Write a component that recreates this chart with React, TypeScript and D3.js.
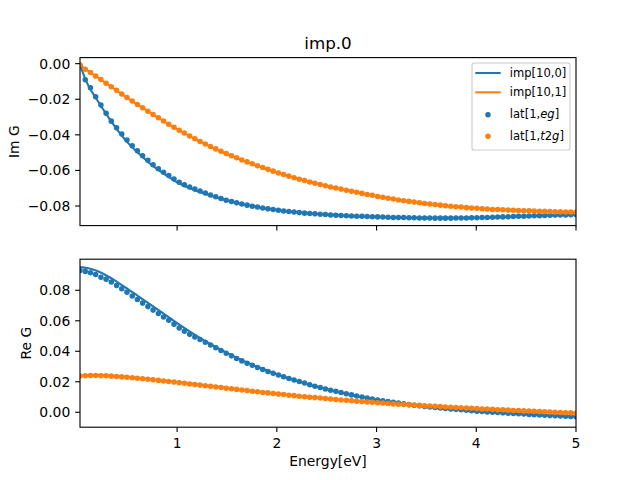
import * as d3 from "d3";

// Matsubara energies of the lattice points (eV)
const energy = [
  0.026, 0.079, 0.131, 0.183, 0.236, 0.288, 0.34, 0.393, 0.445, 0.497,
  0.55, 0.602, 0.654, 0.707, 0.759, 0.812, 0.864, 0.916, 0.969, 1.021,
  1.073, 1.126, 1.178, 1.23, 1.283, 1.335, 1.388, 1.44, 1.492, 1.545,
  1.597, 1.649, 1.702, 1.754, 1.806, 1.859, 1.911, 1.963, 2.016, 2.068,
  2.121, 2.173, 2.225, 2.278, 2.33, 2.382, 2.435, 2.487, 2.539, 2.592,
  2.644, 2.697, 2.749, 2.801, 2.854, 2.906, 2.958, 3.011, 3.063, 3.115,
  3.168, 3.22, 3.272, 3.325, 3.377, 3.43, 3.482, 3.534, 3.587, 3.639,
  3.691, 3.744, 3.796, 3.848, 3.901, 3.953, 4.006, 4.058, 4.11, 4.163,
  4.215, 4.267, 4.32, 4.372, 4.424, 4.477, 4.529, 4.581, 4.634, 4.686,
  4.739, 4.791, 4.843, 4.896, 4.948, 5.0,
];

const imLatEg = [
  -0.001, -0.009, -0.0136, -0.0186, -0.0233, -0.0279, -0.0323, -0.036, -0.0395, -0.0429,
  -0.0461, -0.049, -0.0517, -0.0543, -0.0568, -0.059, -0.061, -0.0628, -0.0648, -0.0666,
  -0.068, -0.0693, -0.0705, -0.0716, -0.0727, -0.0738, -0.0748, -0.0758, -0.0767, -0.0775,
  -0.0782, -0.0789, -0.0795, -0.0801, -0.0806, -0.0811, -0.0816, -0.082, -0.0824, -0.0828,
  -0.0831, -0.0834, -0.0837, -0.084, -0.0842, -0.0844, -0.0846, -0.0848, -0.085, -0.0852,
  -0.0853, -0.0855, -0.0856, -0.0857, -0.0858, -0.0859, -0.086, -0.0861, -0.0862, -0.0863,
  -0.0864, -0.0864, -0.0865, -0.0866, -0.0866, -0.0867, -0.0867, -0.0867, -0.0868, -0.0868,
  -0.0868, -0.0868, -0.0867, -0.0867, -0.0867, -0.0866, -0.0866, -0.0865, -0.0864, -0.0863,
  -0.0862, -0.0861, -0.086, -0.0859, -0.0858, -0.0857, -0.0856, -0.0855, -0.0854, -0.0853,
  -0.0852, -0.0851, -0.085, -0.085, -0.0849, -0.0848,
];

const imLatT2g = [
  -0.0008, -0.0031, -0.005, -0.007, -0.0089, -0.011, -0.013, -0.015, -0.017, -0.019,
  -0.021, -0.0229, -0.0248, -0.0267, -0.0286, -0.0304, -0.0322, -0.034, -0.0357, -0.0374,
  -0.039, -0.0406, -0.0422, -0.0437, -0.0452, -0.0466, -0.0479, -0.0492, -0.0505, -0.0517,
  -0.0529, -0.0541, -0.0552, -0.0563, -0.0574, -0.0584, -0.0594, -0.0604, -0.0614, -0.0623,
  -0.0632, -0.0641, -0.0649, -0.0657, -0.0665, -0.0672, -0.0679, -0.0686, -0.0693, -0.0699,
  -0.0705, -0.0711, -0.0717, -0.0723, -0.0729, -0.0735, -0.074, -0.0746, -0.0751, -0.0756,
  -0.0761, -0.0766, -0.077, -0.0774, -0.0778, -0.0782, -0.0786, -0.0789, -0.0792, -0.0795,
  -0.0798, -0.0801, -0.0804, -0.0806, -0.0809, -0.0811, -0.0813, -0.0815, -0.0817, -0.0819,
  -0.082, -0.0821, -0.0823, -0.0824, -0.0825, -0.0826, -0.0827, -0.0828, -0.0829, -0.083,
  -0.0831, -0.0832, -0.0833, -0.0834, -0.0834, -0.0835,
];

const reLatEg = [
  0.093, 0.0924, 0.0915, 0.0903, 0.0886, 0.0872, 0.0855, 0.0832, 0.081, 0.0788,
  0.0763, 0.074, 0.0716, 0.0693, 0.067, 0.0648, 0.0625, 0.0603, 0.0578, 0.0553,
  0.0531, 0.0511, 0.0494, 0.0477, 0.0459, 0.0441, 0.0423, 0.0405, 0.0387, 0.037,
  0.0353, 0.0337, 0.0322, 0.0308, 0.0294, 0.0281, 0.0268, 0.0256, 0.0244, 0.0233,
  0.0222, 0.0212, 0.0202, 0.0192, 0.018, 0.0171, 0.0162, 0.0153, 0.0145, 0.0137,
  0.0129, 0.0121, 0.0114, 0.0107, 0.01, 0.0093, 0.0087, 0.0081, 0.0075, 0.007,
  0.0065, 0.006, 0.0055, 0.005, 0.0046, 0.0042, 0.0038, 0.0034, 0.0031, 0.0028,
  0.0025, 0.0022, 0.0019, 0.0016, 0.0013, 0.001, 0.0007, 0.0005, 0.0002, 0.0,
  -0.0002, -0.0004, -0.0006, -0.0008, -0.001, -0.0012, -0.0014, -0.0016, -0.0018, -0.002,
  -0.0022, -0.0023, -0.0025, -0.0026, -0.0028, -0.0029,
];

const reLatT2g = [
  0.0238, 0.024, 0.0241, 0.0241, 0.024, 0.0239, 0.0237, 0.0235, 0.0232, 0.0229,
  0.0226, 0.0223, 0.022, 0.0216, 0.0213, 0.0209, 0.0205, 0.0202, 0.0198, 0.0194,
  0.019, 0.0186, 0.0182, 0.0178, 0.0174, 0.017, 0.0166, 0.0162, 0.0158, 0.0154,
  0.015, 0.0146, 0.0142, 0.0138, 0.0134, 0.013, 0.0127, 0.0123, 0.0119, 0.0116,
  0.0112, 0.0109, 0.0105, 0.0102, 0.0099, 0.0096, 0.0093, 0.009, 0.0087, 0.0084,
  0.0081, 0.0078, 0.0075, 0.0072, 0.007, 0.0067, 0.0065, 0.0062, 0.006, 0.0058,
  0.0055, 0.0053, 0.0051, 0.0049, 0.0047, 0.0045, 0.0043, 0.0041, 0.0039, 0.0037,
  0.0035, 0.0033, 0.0031, 0.0029, 0.0028, 0.0026, 0.0024, 0.0022, 0.0021, 0.0019,
  0.0017, 0.0016, 0.0014, 0.0012, 0.0011, 0.0009, 0.0008, 0.0006, 0.0005, 0.0003,
  0.0002, 0.0, -0.0001, -0.0003, -0.0004, -0.0006,
];

// impurity solver curves
const lineEnergy = [
  0.026, 0.1, 0.2, 0.3, 0.4, 0.5, 0.6, 0.7, 0.8, 0.9, 1.0, 1.2,
  1.4, 1.6, 1.8, 2.0, 2.25, 2.5, 2.75, 3.0, 3.5, 4.0, 4.5, 5.0,
];
const imImp0 = [
  -0.0008, -0.0112, -0.0206, -0.0292, -0.0372, -0.0441, -0.0497, -0.0548, -0.0593, -0.0631, -0.0667, -0.0716,
  -0.0754, -0.0783, -0.0805, -0.0823, -0.0838, -0.0848, -0.0856, -0.0861, -0.0867, -0.0866, -0.0857, -0.0848,
];
const imImp1 = [
  -0.0008, -0.0038, -0.0076, -0.0115, -0.0154, -0.0192, -0.0229, -0.0265, -0.0301, -0.0335, -0.0368, -0.0429,
  -0.0484, -0.0531, -0.0574, -0.0612, -0.0653, -0.0688, -0.0717, -0.0745, -0.0788, -0.0813, -0.0827, -0.0835,
];
const reImp0 = [
  0.0952, 0.0946, 0.0926, 0.0894, 0.0854, 0.0811, 0.0766, 0.0721, 0.0676, 0.063, 0.0585, 0.05,
  0.0424, 0.0357, 0.03, 0.025, 0.0196, 0.0151, 0.0113, 0.0082, 0.0037, 0.0007, -0.0013, -0.003,
];
const reImp1 = [
  0.024, 0.0243, 0.0245, 0.0243, 0.0238, 0.0232, 0.0226, 0.0219, 0.0212, 0.0205, 0.0198, 0.0183,
  0.0167, 0.0151, 0.0136, 0.0121, 0.0105, 0.009, 0.0076, 0.0063, 0.0042, 0.0025, 0.001, -0.0005,
];

const xTicks = [1, 2, 3, 4, 5];
const imTicks = [0, -0.02, -0.04, -0.06, -0.08];
const reTicks = [0, 0.02, 0.04, 0.06, 0.08];

const C0 = "#1f77b4";
const C1 = "#ff7f0e";
const FONT = "DejaVu Sans";

const left = 80;
const right = 576;
const panels = [
  { top: 57.6, bottom: 225.6, domain: [-0.091, 0.0034], ticks: imTicks, label: "Im G", labelX: 18.5, lines: [imImp0, imImp1], dots: [imLatEg, imLatT2g], xLabels: false },
  { top: 259.2, bottom: 427.2, domain: [-0.0098, 0.1004], ticks: reTicks, label: "Re G", labelX: 30.5, lines: [reImp0, reImp1], dots: [reLatEg, reLatT2g], xLabels: true },
];

const x = d3.scaleLinear().domain([0.02618, 5]).range([left, right]);
const fmt = d3.format(".2f");

function Panel({ p, idx }: { p: (typeof panels)[number]; idx: number }) {
  const y = d3.scaleLinear().domain(p.domain).range([p.bottom, p.top]);
  const line = d3
    .line<number>()
    .x((_, i) => x(lineEnergy[i]))
    .y((d) => y(d))
    .curve(d3.curveMonotoneX);
  const clipId = `clip${idx}`;
  const colors = [C0, C1];
  return (
    <g>
      <defs>
        <clipPath id={clipId}>
          <rect x={left} y={p.top} width={right - left} height={p.bottom - p.top} />
        </clipPath>
      </defs>
      <g clipPath={`url(#${clipId})`}>
        {p.lines.map((vals, k) => (
          <path key={k} d={line(vals) ?? ""} fill="none" stroke={colors[k]} strokeWidth={2.08} strokeLinejoin="round" strokeLinecap="square" />
        ))}
        {p.dots.map((vals, k) =>
          vals.map((v, i) => (
            <circle key={`${k}-${i}`} cx={x(energy[i])} cy={y(v)} r={2.08} fill={colors[k]} stroke={colors[k]} strokeWidth={1.39} />
          ))
        )}
      </g>
      <rect x={left} y={p.top} width={right - left} height={p.bottom - p.top} fill="none" stroke="#000" strokeWidth={1.11} />
      {xTicks.map((t) => (
        <g key={t}>
          <line x1={x(t)} x2={x(t)} y1={p.bottom} y2={p.bottom + 4.86} stroke="#000" strokeWidth={1.11} />
          {p.xLabels && (
            <text x={x(t)} y={p.bottom + 20.4} textAnchor="middle" fontFamily={FONT} fontSize={13.9}>
              {t}
            </text>
          )}
        </g>
      ))}
      {p.ticks.map((t) => (
        <g key={t}>
          <line x1={left - 4.86} x2={left} y1={y(t)} y2={y(t)} stroke="#000" strokeWidth={1.11} />
          <text x={left - 9.7} y={y(t)} dy="0.36em" textAnchor="end" fontFamily={FONT} fontSize={13.9}>
            {fmt(t)}
          </text>
        </g>
      ))}
      <text
        transform={`translate(${p.labelX},${(p.top + p.bottom) / 2}) rotate(-90)`}
        textAnchor="middle"
        fontFamily={FONT}
        fontSize={13.9}
      >
        {p.label}
      </text>
    </g>
  );
}

function Legend() {
  const lx = 472;
  const ly = 63;
  const fs = 11.57;
  const rows = [
    { kind: "line", color: C0, base: 77, label: <tspan>imp[10,0]</tspan> },
    { kind: "line", color: C1, base: 96.3, label: <tspan>imp[10,1]</tspan> },
    {
      kind: "dot",
      color: C0,
      base: 118.2,
      label: (
        <>
          <tspan>lat[1,</tspan>
          <tspan fontStyle="italic">eg</tspan>
          <tspan>]</tspan>
        </>
      ),
    },
    {
      kind: "dot",
      color: C1,
      base: 139.8,
      label: (
        <>
          <tspan>lat[1,</tspan>
          <tspan fontStyle="italic">t</tspan>
          <tspan>2</tspan>
          <tspan fontStyle="italic">g</tspan>
          <tspan>]</tspan>
        </>
      ),
    },
  ];
  return (
    <g>
      <rect x={lx} y={ly} width={98} height={87} rx={2.3} fill="#fff" fillOpacity={0.8} stroke="#cccccc" strokeWidth={1.11} />
      {rows.map((r, i) =>
        <g key={i}>
          {r.kind === "line" ? (
            <line x1={475.3} x2={500.7} y1={r.base - 4} y2={r.base - 4} stroke={r.color} strokeWidth={2.08} />
          ) : (
            <circle cx={488} cy={r.base - 3.5} r={2.08} fill={r.color} stroke={r.color} strokeWidth={1.39} />
          )}
          <text x={509.8} y={r.base} fontFamily={FONT} fontSize={fs}>
            {r.label}
          </text>
        </g>
      )}
    </g>
  );
}

export default function App() {
  return (
    <svg
      width={640}
      height={480}
      viewBox="0 0 640 480"
      style={{ position: "absolute", left: 0, top: 0, background: "#fff" }}
    >
      <rect width={640} height={480} fill="#fff" />
      <text x={(left + right) / 2} y={49.3} textAnchor="middle" fontFamily={FONT} fontSize={16.7}>
        imp.0
      </text>
      {panels.map((p, i) => (
        <Panel key={i} p={p} idx={i} />
      ))}
      <Legend />
      <text x={(left + right) / 2} y={466} textAnchor="middle" fontFamily={FONT} fontSize={13.9}>
        Energy[eV]
      </text>
    </svg>
  );
}
